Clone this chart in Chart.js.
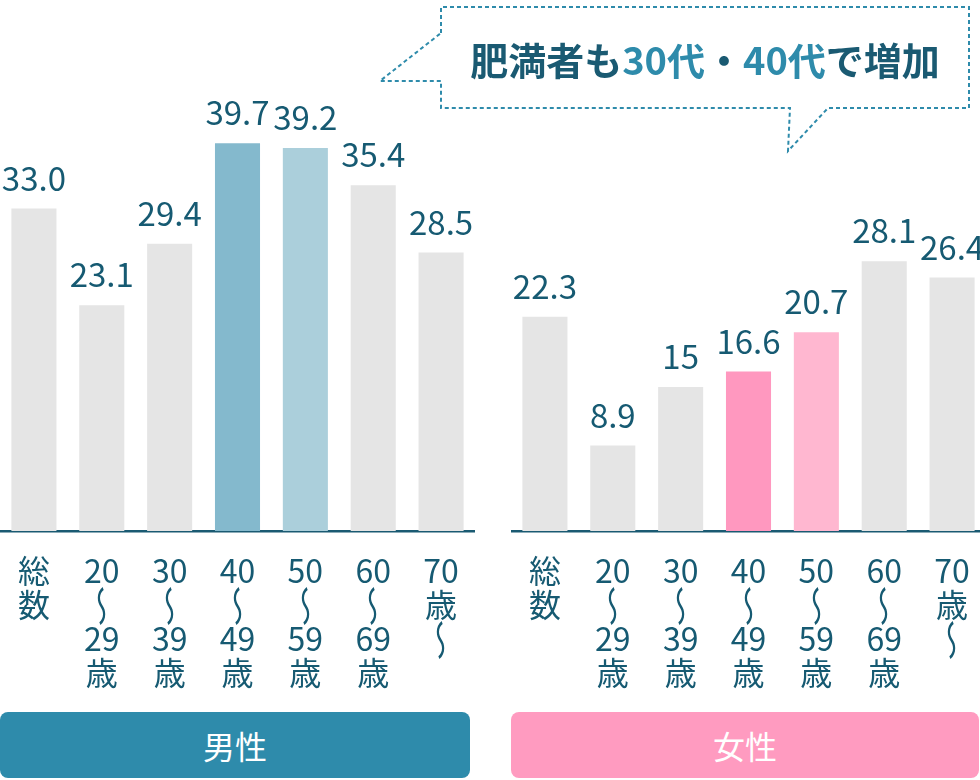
<!DOCTYPE html>
<html lang="ja">
<head>
<meta charset="utf-8">
<script src="https://cdn.jsdelivr.net/npm/chart.js@4.4.1/dist/chart.umd.min.js"></script>
<style>
  html, body { margin: 0; padding: 0; background: #fff; }
  #wrap { position: relative; width: 980px; height: 780px; overflow: hidden; font-family: "Noto Sans CJK JP", "Noto Sans", sans-serif; }
  canvas { position: absolute; top: 0; }
  #maleChart { left: 0; }
  #femaleChart { left: 511px; }
  .bubble { position: absolute; left: 0; top: 0; pointer-events: none; }
  .bubble-text { position: absolute; left: 441px; top: 8px; width: 528px; height: 100px; display: flex; align-items: center; justify-content: center; font-size: 38px; font-weight: 700; color: #1a5a72; white-space: nowrap; }
  .bubble-text .hi { color: #2e8bab; }
  .tag { position: absolute; top: 712px; height: 66px; border-radius: 8px; color: #fff; font-size: 32px; display: flex; align-items: center; justify-content: center; }
</style>
</head>
<body>
<div id="wrap">
  <canvas id="maleChart" width="475" height="700"></canvas>
  <canvas id="femaleChart" width="475" height="700"></canvas>

  <svg class="bubble" width="980" height="780">
    <path d="M441,33 V7 H969 V108 H828 L788,151 L790,108 H441 V81 H380 Z"
          fill="#fff" stroke="#2e8bab" stroke-width="2" stroke-dasharray="4 3" />
  </svg>
  <div class="bubble-text">肥満者も<span class="hi">30代</span>・<span class="hi">40代</span>で増加</div>

  <div class="tag" style="left:0; width:470px; background:#2e8bab;">男性</div>
  <div class="tag" style="left:511px; width:468px; background:#ff9bc0;">女性</div>
</div>

<script>
// age groups, one line of the vertical label per entry
const categories = [
  ['総', '数'],
  ['20', '〜', '29', '歳'],
  ['30', '〜', '39', '歳'],
  ['40', '〜', '49', '歳'],
  ['50', '〜', '59', '歳'],
  ['60', '〜', '69', '歳'],
  ['70', '歳', '〜']
];

// values as printed above the bars
const maleText = ['33.0', '23.1', '29.4', '39.7', '39.2', '35.4', '28.5'];
const femaleText = ['22.3', '8.9', '15', '16.6', '20.7', '28.1', '26.4'];
const maleValues = maleText.map(Number);
const femaleValues = femaleText.map(Number);

const GREY = '#e5e5e5';
const maleColors = [GREY, GREY, GREY, '#84b9cd', '#abcfdb', GREY, GREY];
const femaleColors = [GREY, GREY, GREY, '#ff98bf', '#ffb7d0', GREY, GREY];
const FONT = '"Noto Sans CJK JP", "Noto Sans", sans-serif';

// value labels + stacked category labels under the axis
const labelPlugin = {
  id: 'barLabels',
  afterDatasetsDraw(chart, args, opts) {
    const ctx = chart.ctx;
    const meta = chart.getDatasetMeta(0);
    const xs = chart.scales.x;
    ctx.save();
    ctx.fillStyle = '#165a72';
    ctx.textAlign = 'center';

    ctx.font = '400 33px ' + FONT;
    ctx.textBaseline = 'alphabetic';
    meta.data.forEach((bar, i) => {
      ctx.fillText(opts.texts[i], bar.x, bar.y - 18);
    });

    ctx.font = '400 32px ' + FONT;
    ctx.textBaseline = 'middle';
    chart.data.labels.forEach((lines, i) => {
      const x = xs.getPixelForValue(i);
      lines.forEach((t, j) => {
        const y = chart.chartArea.bottom + 40 + j * 34;
        if (t === '〜') {
          // wave dash turned upright like in vertical writing (mirrored, stretched)
          ctx.save();
          ctx.translate(x, y + 1);
          ctx.rotate(Math.PI / 2);
          ctx.scale(1.3, -0.85);
          ctx.textBaseline = 'alphabetic';
          const m = ctx.measureText(t);
          const mid = (m.actualBoundingBoxAscent - m.actualBoundingBoxDescent) / 2;
          ctx.fillText(t, 0, mid);
          ctx.restore();
        } else {
          ctx.fillText(t, x, y);
        }
      });
    });
    ctx.restore();
  }
};

function makeChart(id, values, colors, texts, yMax) {
  return new Chart(document.getElementById(id), {
    type: 'bar',
    data: {
      labels: categories,
      datasets: [{
        data: values,
        backgroundColor: colors,
        borderWidth: 0,
        barPercentage: 0.664,
        categoryPercentage: 1
      }]
    },
    options: {
      responsive: false,
      animation: false,
      devicePixelRatio: 1,
      layout: { padding: { top: 0, bottom: 169, left: 0, right: 0 } },
      scales: {
        x: {
          display: true,
          grid: { display: false, drawTicks: false },
          border: { display: true, color: '#1a5a72', width: 2.5 },
          ticks: { display: false }
        },
        y: { display: false, min: 0, max: yMax }
      },
      plugins: {
        legend: { display: false },
        tooltip: { enabled: false },
        barLabels: { texts: texts }
      }
    },
    plugins: [labelPlugin]
  });
}

makeChart('maleChart', maleValues, maleColors, maleText, 54.35);
makeChart('femaleChart', femaleValues, femaleColors, femaleText, 55.3);
</script>
</body>
</html>
